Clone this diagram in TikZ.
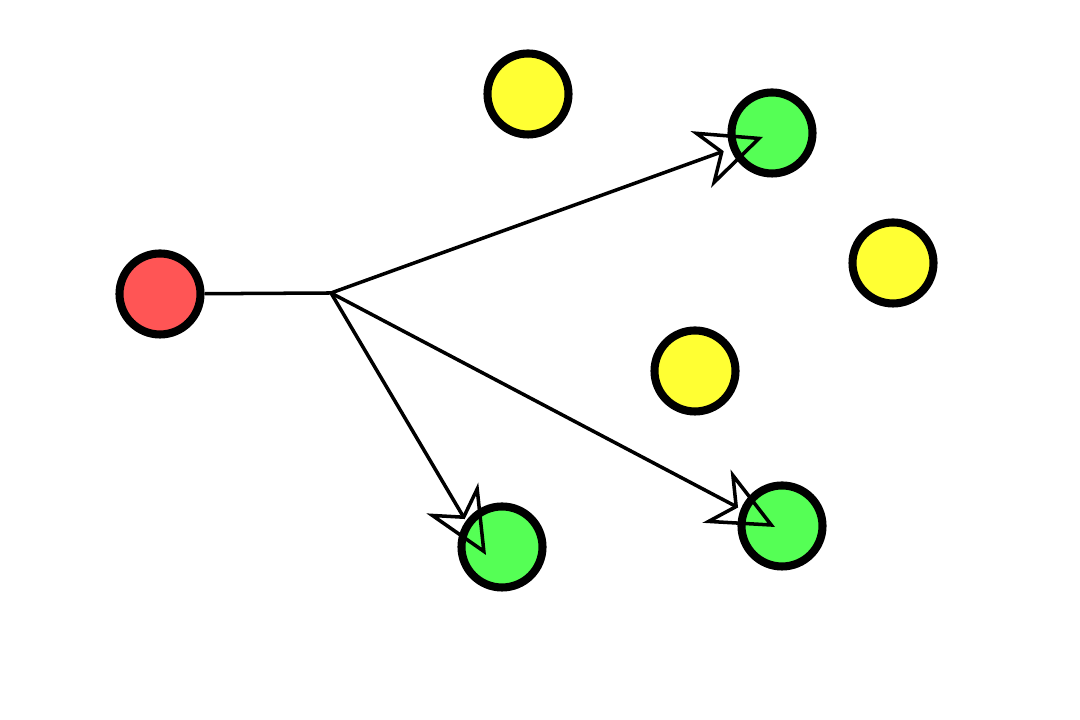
\documentclass[tikz,border=0pt]{standalone}
\usetikzlibrary{arrows.meta}
\definecolor{dotred}{HTML}{FF5555}
\definecolor{dotyellow}{HTML}{FFFF33}
\definecolor{dotgreen}{HTML}{55FF55}
\tikzset{
  dot/.style={circle,draw=black,line width=2.3pt,minimum size=0.81cm,inner sep=0pt},
  arr/.style={line width=1pt,-{Stealth[open,length=0.66cm,width=0.6cm,inset=0.2cm]}}
}
\begin{document}
\begin{tikzpicture}
      \useasboundingbox (0,0) rectangle (10.8,7.2);
      \node[dot,fill=dotred] (src) at (1.60,4.26) {};
      \node[dot,fill=dotyellow] (y1) at (5.28,6.26) {};
      \node[dot,fill=dotyellow] (y2) at (8.93,4.57) {};
      \node[dot,fill=dotyellow] (y3) at (6.95,3.49) {};
      \node[dot,fill=dotgreen] (g1) at (7.72,5.87) {};
      \node[dot,fill=dotgreen] (g2) at (5.02,1.73) {};
      \node[dot,fill=dotgreen] (g3) at (7.82,1.94) {};
      \coordinate (split) at (3.31,4.27);
      \coordinate (t1) at ([shift={(-0.09,-0.04)}]g1.center);
      \coordinate (t2) at ([shift={(-0.16,-0.08)}]g2.center);
      \coordinate (t3) at ([shift={(-0.07,-0.01)}]g3.center);
      \draw[line width=1pt] (src) -- (split);
      \draw[arr] (split) -- (t1);
      \draw[arr] (split) -- (t2);
      \draw[arr] (split) -- (t3);
\end{tikzpicture}
\end{document}
